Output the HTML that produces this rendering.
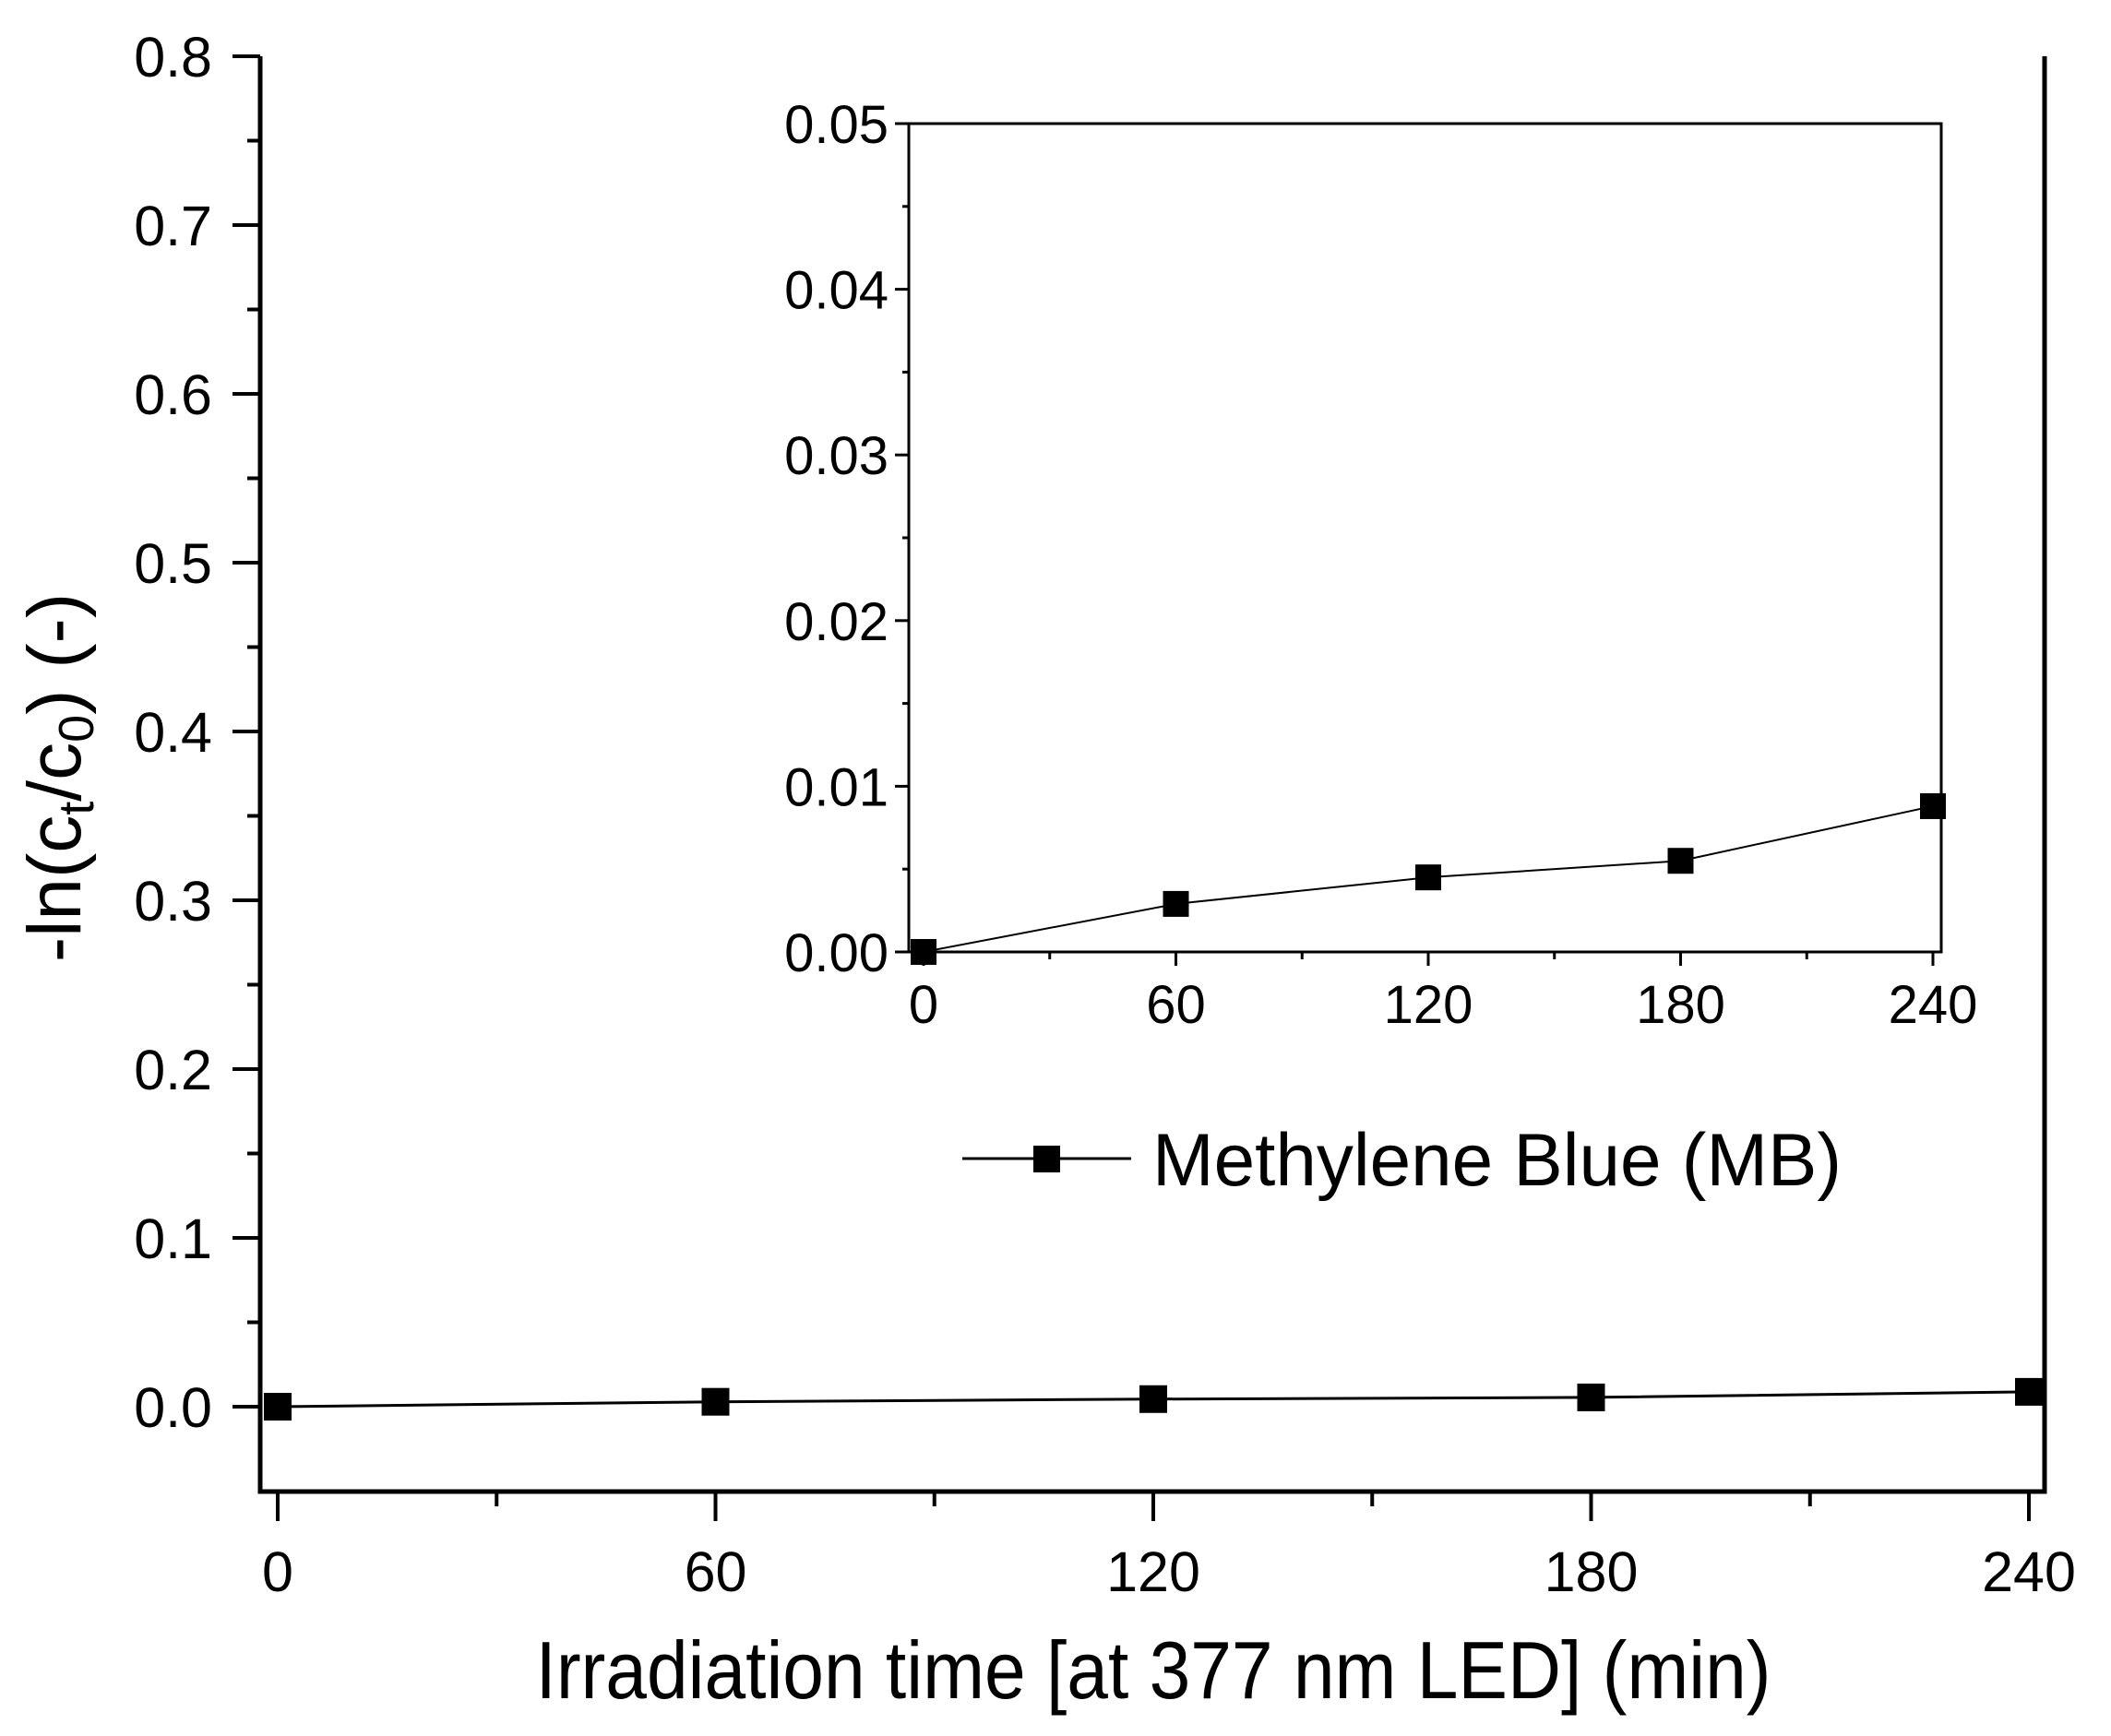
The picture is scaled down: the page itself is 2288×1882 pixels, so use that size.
<!DOCTYPE html>
<html><head><meta charset="utf-8"><style>
html,body{margin:0;padding:0;background:#fff;}
svg{display:block;font-family:"Liberation Sans",Arial,sans-serif;}
</style></head><body>
<svg id="chart" width="2288" height="1882" viewBox="0 0 2288 1882" xmlns="http://www.w3.org/2000/svg">
<g id="main"></g>
<g id="inset"></g>
<text x="1250" y="1841" font-size="88" text-anchor="middle" textLength="1339" lengthAdjust="spacingAndGlyphs">Irradiation time [at 377 nm LED] (min)</text>
<text transform="translate(87,843) rotate(-90)" font-size="82" text-anchor="middle">-ln(c<tspan font-size="54" dy="14">t</tspan><tspan dy="-14">/c</tspan><tspan font-size="54" dy="14">0</tspan><tspan dy="-14">) (-)</tspan></text>
<g>
<line x1="1043" y1="1256" x2="1226" y2="1256" stroke="#000" stroke-width="3"/>
<rect x="1120" y="1242" width="29" height="29" fill="#000"/>
<text x="1249" y="1285" font-size="81" textLength="747" lengthAdjust="spacingAndGlyphs">Methylene Blue (MB)</text>
</g>
</svg>
<script>
const times = [0, 60, 120, 180, 240];
const values = [0, 0.0029, 0.0045, 0.0055, 0.0088];
const mainYTicks = ["0.0","0.1","0.2","0.3","0.4","0.5","0.6","0.7","0.8"];
const xTicks = ["0","60","120","180","240"];
const insetYTicks = ["0.00","0.01","0.02","0.03","0.04","0.05"];

const NS = "http://www.w3.org/2000/svg";
function mk(parent, tag, attrs, text){
  const e = document.createElementNS(NS, tag);
  for (const k in attrs) e.setAttribute(k, attrs[k]);
  if (text !== undefined) e.textContent = text;
  parent.appendChild(e);
  return e;
}
const mx = v => 301 + (v - 0) * (2199 - 301) / 240;
const my = v => 1525 - v * (1525 - 61) / 0.8;
const main = document.getElementById('main');
let e;
e = mk(main, 'path', {d:`M282 61 L282 1617 L2216 1617 L2216 61`, fill:'none', stroke:'#000', 'stroke-width':5});


mainYTicks.forEach((t) => {
  const y = my(parseFloat(t));
  e = mk(main, 'line', {x1:252, y1:y, x2:282, y2:y, stroke:'#000', 'stroke-width':4});
  
  
  e = mk(main, 'text', {x:230, y:y+22, 'font-size':61, 'text-anchor':'end'}, t);
  
  
  const ym = my(parseFloat(t) + 0.05);
  if (parseFloat(t) < 0.8) {
    e = mk(main, 'line', {x1:268, y1:ym, x2:282, y2:ym, stroke:'#000', 'stroke-width':4});
    
    
  }
});
xTicks.forEach((t) => {
  const x = mx(parseFloat(t));
  e = mk(main, 'line', {x1:x, y1:1617, x2:x, y2:1649, stroke:'#000', 'stroke-width':4});
  
  
  e = mk(main, 'text', {x:x, y:1725, 'font-size':61, 'text-anchor':'middle'}, t);
  
  
  if (parseFloat(t) < 240) {
    const xm = mx(parseFloat(t) + 30);
    e = mk(main, 'line', {x1:xm, y1:1617, x2:xm, y2:1633, stroke:'#000', 'stroke-width':4});
    
    
  }
});
e = mk(main, 'polyline', {points: times.map((t,i)=>`${mx(t)},${my(values[i])}`).join(' '), fill:'none', stroke:'#000', 'stroke-width':3});


times.forEach((t,i) => {
  e = mk(main, 'rect', {x:mx(t)-15, y:my(values[i])-15, width:30, height:30, fill:'#000'});
  
  
});
const ix = v => 1001 + v * (2095 - 1001) / 240;
const iy = v => 1032 - v * (1032 - 134) / 0.05;
const inset = document.getElementById('inset');
e = mk(inset, 'rect', {x:985, y:134, width:2104-985, height:1032-134, fill:'none', stroke:'#000', 'stroke-width':3});


insetYTicks.forEach((t) => {
  const y = iy(parseFloat(t));
  e = mk(inset, 'line', {x1:970, y1:y, x2:985, y2:y, stroke:'#000', 'stroke-width':3});
  
  
  e = mk(inset, 'text', {x:963, y:y+21, 'font-size':58, 'text-anchor':'end'}, t);
  
  
  if (parseFloat(t) < 0.05) {
    const ym = iy(parseFloat(t) + 0.005);
    e = mk(inset, 'line', {x1:978, y1:ym, x2:985, y2:ym, stroke:'#000', 'stroke-width':3});
    
    
  }
});
xTicks.forEach((t) => {
  const x = ix(parseFloat(t));
  e = mk(inset, 'line', {x1:x, y1:1032, x2:x, y2:1047, stroke:'#000', 'stroke-width':3});
  
  
  e = mk(inset, 'text', {x:x, y:1109, 'font-size':58, 'text-anchor':'middle'}, t);
  
  
  if (parseFloat(t) < 240) {
    const xm = ix(parseFloat(t) + 30);
    e = mk(inset, 'line', {x1:xm, y1:1032, x2:xm, y2:1040, stroke:'#000', 'stroke-width':3});
    
    
  }
});
e = mk(inset, 'polyline', {points: times.map((t,i)=>`${ix(t)},${iy(values[i])}`).join(' '), fill:'none', stroke:'#000', 'stroke-width':2});


times.forEach((t,i) => {
  e = mk(inset, 'rect', {x:ix(t)-14, y:iy(values[i])-14, width:28, height:28, fill:'#000'});
  
  
});
</script>
</body></html>
